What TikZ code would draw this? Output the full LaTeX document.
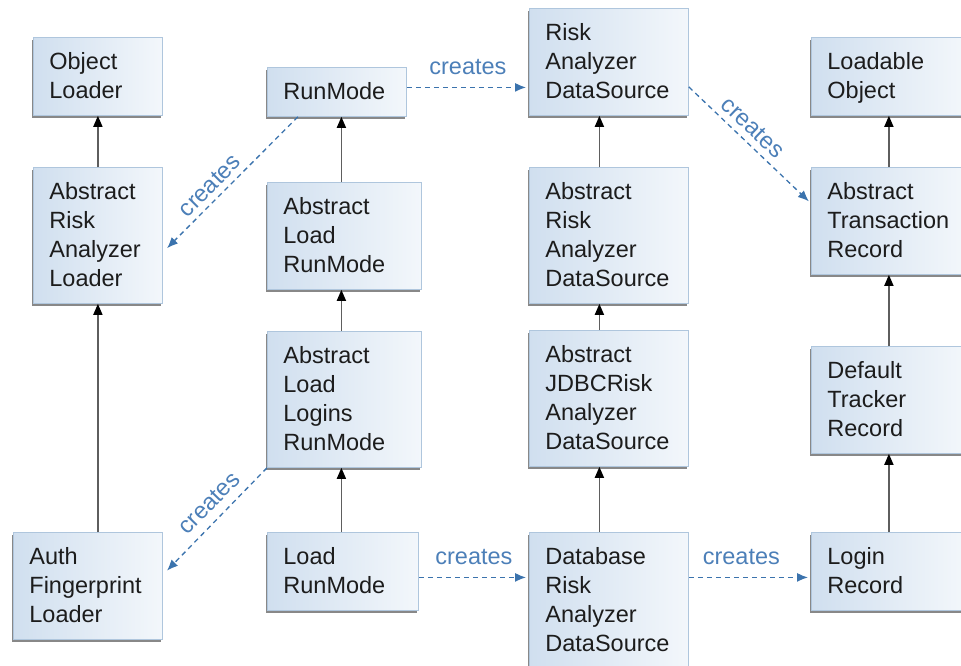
\documentclass[tikz,border=0pt]{standalone}
\usepackage{fontspec}
\setmainfont{Liberation Sans}
\usetikzlibrary{arrows.meta,shadows}
\definecolor{boxborder}{HTML}{AFC6DD}
\definecolor{boxleft}{HTML}{D0DFEF}
\definecolor{boxright}{HTML}{F3F7FB}
\definecolor{inhline}{HTML}{5E5E5E}
\definecolor{crblue}{HTML}{3B73AD}
\definecolor{crtext}{HTML}{4C7FB8}
\definecolor{boxtext}{HTML}{1C1C1C}
\newcommand\ls{\rule[-6pt]{0pt}{28pt}}
\tikzset{
  cls/.style={anchor=north west, draw=boxborder, line width=0.8pt,
    left color=boxleft, right color=boxright,
    drop shadow={shadow xshift=-1.6pt, shadow yshift=-2.4pt, fill=black!55, opacity=0.85},
    inner xsep=16pt, inner ysep=10.5pt, align=left, text=boxtext,
    font=\fontsize{23.5}{29}\selectfont, text width=#1-32pt},
  inh/.style={draw=inhline, line width=1.6pt, -{Triangle[length=11pt,width=9pt,color=black]}},
  crt/.style={draw=crblue, line width=1.3pt, dash pattern=on 5pt off 4pt,
    -{Latex[length=11pt,width=9pt]}},
  crlab/.style={text=crtext, font=\fontsize{23.5}{29}\selectfont, inner sep=0pt}
}
\begin{document}
\begin{tikzpicture}[x=1pt,y=-1pt]
\useasboundingbox (0,0) rectangle (961,665);
% column 1
\node[cls=129pt] (ol) at (33,37) {\ls Object\\\ls Loader};
\node[cls=129pt] (aral) at (33,167) {\ls Abstract\\\ls Risk\\\ls Analyzer\\\ls Loader};
\node[cls=149pt] (afl) at (13,532) {\ls Auth\\\ls Fingerprint\\\ls Loader};
% column 2
\node[cls=139pt] (rm) at (267,67) {\ls RunMode};
\node[cls=154pt] (alr) at (267,182) {\ls Abstract\\\ls Load\\\ls RunMode};
\node[cls=154pt] (allr) at (267,331) {\ls Abstract\\\ls Load\\\ls Logins\\\ls RunMode};
\node[cls=151pt] (lr) at (267,532) {\ls Load\\\ls RunMode};
% column 3
\node[cls=159pt] (rads) at (529,8) {\ls Risk\\\ls Analyzer\\\ls DataSource};
\node[cls=159pt] (arads) at (529,167) {\ls Abstract\\\ls Risk\\\ls Analyzer\\\ls DataSource};
\node[cls=159pt] (ajdbc) at (529,330) {\ls Abstract\\\ls JDBCRisk\\\ls Analyzer\\\ls DataSource};
\node[cls=159pt] (db) at (529,532) {\ls Database\\\ls Risk\\\ls Analyzer\\\ls DataSource};
% column 4
\node[cls=155pt] (lo) at (811,37) {\ls Loadable\\\ls Object};
\node[cls=155pt] (atr) at (811,167) {\ls Abstract\\\ls Transaction\\\ls Record};
\node[cls=155pt] (dtr) at (811,346) {\ls Default\\\ls Tracker\\\ls Record};
\node[cls=155pt] (login) at (811,532) {\ls Login\\\ls Record};
% inheritance arrows
\draw[inh] (aral.north) -- (ol.south);
\draw[inh] (afl.north -| aral.south) -- (aral.south);
\draw[inh] ([xshift=-3pt]alr.north) -- ([xshift=-3pt]alr.north |- rm.south);
\draw[inh] ([xshift=-3pt]allr.north) -- ([xshift=-3pt]alr.south);
\draw[inh] ([xshift=-1.5pt]lr.north) -- ([xshift=-1.5pt]lr.north |- allr.south);
\draw[inh] ([xshift=-9.5pt]arads.north) -- ([xshift=-9.5pt]arads.north |- rads.south);
\draw[inh] ([xshift=-9.5pt]ajdbc.north) -- ([xshift=-9.5pt]arads.south);
\draw[inh] ([xshift=-9.5pt]db.north) -- ([xshift=-9.5pt]ajdbc.south);
\draw[inh] (atr.north) -- (lo.south);
\draw[inh] (dtr.north) -- (atr.south);
\draw[inh] (login.north) -- (dtr.south);
% creates arrows
\draw[crt, shorten >=3pt] ([yshift=4.5pt]rm.east) -- ([yshift=4.5pt]rm.east -| rads.west)
  node[crlab, midway, above=12pt] {creates};
\draw[crt, shorten >=3pt] ([yshift=-25pt]rads.east) -- ([yshift=17.5pt]atr.west);
\path ([yshift=-25pt]rads.east) -- ([yshift=17.5pt]atr.west)
  node[crlab, pos=0.44, sloped, above=7pt] {creates};
\draw[crt, shorten >=6pt] ([xshift=-39pt]rm.south) -- ([yshift=-17pt]aral.east);
\path ([yshift=-17pt]aral.east) -- ([xshift=-39pt]rm.south)
  node[crlab, pos=0.42, sloped, above=6pt] {creates};
\draw[crt, shorten >=6pt] (allr.south west) -- ([yshift=11pt]afl.east);
\path ([yshift=11pt]afl.east) -- (allr.south west)
  node[crlab, pos=0.56, sloped, above=9pt] {creates};
\draw[crt, shorten >=3pt] ([yshift=-6pt]lr.east) -- ([yshift=-6pt]lr.east -| db.west)
  node[crlab, midway, above=12pt] {creates};
\draw[crt, shorten >=3pt] ([yshift=-6pt]login.west -| db.east) -- ([yshift=-6pt]login.west)
  node[crlab, pos=0.43, above=12pt] {creates};
\end{tikzpicture}
\end{document}
